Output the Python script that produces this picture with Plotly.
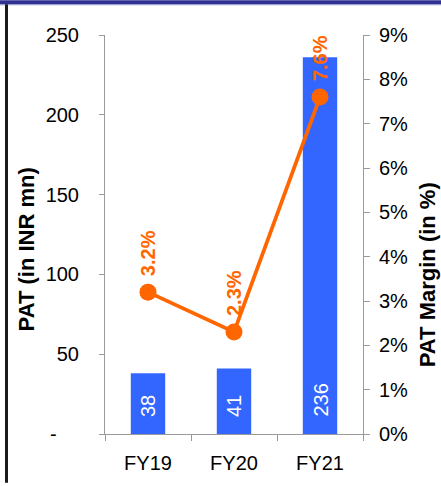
import plotly.graph_objects as go

# Profit after tax, FY19-FY21
years = ["FY19", "FY20", "FY21"]
pat_inr_mn = [38, 41, 236]
pat_margin_pct = [3.2, 2.3, 7.6]

left_ticks = [0, 50, 100, 150, 200, 250]
left_ticktext = ["-\u00a0\u00a0\u00a0\u00a0", "50", "100", "150", "200", "250"]
right_ticks = [i / 100 for i in range(0, 10)]

BAR_BLUE = "#3366FF"
LINE_ORANGE = "#FF6600"
AXIS_GREY = "#9a9a9a"
FONT = "Liberation Sans, Arial, Helvetica, sans-serif"

W, H = 441, 486
ML, MR, MT, MB = 105, 78, 35, 49
PW, PH = W - ML - MR, H - MT - MB


def px_x(px):
    return (px - ML) / PW


def px_y(py):
    return (H - MB - py) / PH


margins = [v / 100 for v in pat_margin_pct]

fig = go.Figure()
fig.add_trace(go.Bar(
    x=years, y=pat_inr_mn, marker=dict(color=BAR_BLUE, line=dict(width=0)),
    width=0.4, yaxis="y", showlegend=False, hoverinfo="skip",
))
fig.add_trace(go.Scatter(
    x=years, y=margins, yaxis="y2", mode="lines+markers",
    line=dict(color=LINE_ORANGE, width=3.8),
    marker=dict(color=LINE_ORANGE, size=17),
    showlegend=False, hoverinfo="skip",
))

annotations = []
# PAT values written upward inside the base of each bar
for yr, v in zip(years, pat_inr_mn):
    annotations.append(dict(
        x=yr, y=0, xref="x", yref="y", text=str(v), textangle=-90,
        showarrow=False, xanchor="center", yanchor="bottom", yshift=15,
        font=dict(family=FONT, size=20, color="white"),
    ))
# Margin values written upward above each point
for yr, m, p in zip(years, margins, pat_margin_pct):
    annotations.append(dict(
        x=yr, y=m, xref="x", yref="y2", text=f"{p:.1f}%", textangle=-90,
        showarrow=False, xanchor="center", yanchor="bottom", yshift=14,
        font=dict(family=FONT, size=20, color=LINE_ORANGE, weight="bold"),
    ))
# Axis titles
annotations.append(dict(
    x=px_x(26), y=px_y(251), xref="paper", yref="paper",
    text="<b>PAT (in INR mn)</b>", textangle=-90, showarrow=False,
    xanchor="center", yanchor="middle",
    font=dict(family=FONT, size=22, color="black"),
))
annotations.append(dict(
    x=px_x(427), y=px_y(277), xref="paper", yref="paper",
    text="<b>PAT Margin (in %)</b>", textangle=-90, showarrow=False,
    xanchor="center", yanchor="middle",
    font=dict(family=FONT, size=22, color="black"),
))

shapes = [
    # navy band along the top edge
    dict(type="rect", xref="paper", yref="paper", x0=px_x(0), x1=px_x(W),
         y0=px_y(4), y1=px_y(0), fillcolor="#2E3192", line=dict(width=0),
         layer="above"),
    dict(type="rect", xref="paper", yref="paper", x0=px_x(0), x1=px_x(W),
         y0=px_y(5), y1=px_y(4), fillcolor="#9094C8", line=dict(width=0),
         layer="above"),
    # dark rule down the left edge
    dict(type="rect", xref="paper", yref="paper", x0=px_x(5), x1=px_x(8),
         y0=px_y(H), y1=px_y(4), fillcolor="#1a1a1a", line=dict(width=0),
         layer="above"),
]

fig.update_layout(
    width=W, height=H,
    margin=dict(l=ML, r=MR, t=MT, b=MB, pad=0),
    paper_bgcolor="white", plot_bgcolor="white",
    font=dict(family=FONT, size=20, color="black"),
    bargap=0.6,
    xaxis=dict(
        type="category", showgrid=False, showline=True, linecolor=AXIS_GREY,
        linewidth=1, ticks="outside", tickson="boundaries", ticklen=6,
        tickcolor=AXIS_GREY, ticklabelstandoff=11,
        tickfont=dict(family=FONT, size=20, color="black"),
    ),
    yaxis=dict(
        range=[0, 250], tickvals=left_ticks, ticktext=left_ticktext,
        showgrid=False, zeroline=False, showline=True, linecolor=AXIS_GREY,
        linewidth=1, ticks="outside", ticklen=5, tickcolor=AXIS_GREY,
        ticklabelstandoff=16,
        tickfont=dict(family=FONT, size=20, color="black"),
    ),
    yaxis2=dict(
        range=[0, 0.09], tickvals=right_ticks, tickformat=".0%",
        overlaying="y", side="right", showgrid=False, zeroline=False,
        showline=True, linecolor=AXIS_GREY, linewidth=1, ticks="outside",
        ticklen=6, tickcolor=AXIS_GREY, ticklabelstandoff=5,
        tickfont=dict(family=FONT, size=20, color="black"),
    ),
    annotations=annotations,
    shapes=shapes,
)

fig.write_html("out.html")
